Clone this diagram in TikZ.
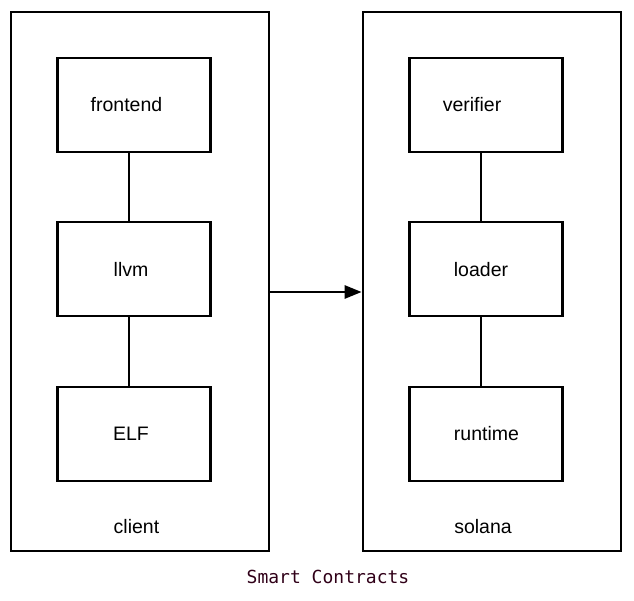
\documentclass[tikz,border=0pt]{standalone}
\usepackage{fontspec}
\setmainfont{Liberation Sans}
\newfontfamily\capfont{DejaVu Sans Mono}
\usetikzlibrary{arrows.meta}
\definecolor{capcol}{HTML}{300018}
\begin{document}
\begin{tikzpicture}[x=1pt,y=1pt,
  outerbox/.style={draw,line width=2.7pt,minimum width=258pt,minimum height=539pt,inner sep=0pt},
  innerbox/.style={draw,line width=2.7pt,minimum width=153pt,minimum height=94pt,inner sep=0pt},
  lbl/.style={font=\fontsize{19.5}{22}\selectfont,inner sep=0pt,anchor=base},
  conn/.style={line width=2.7pt}]
\useasboundingbox (0,0) rectangle (634,600);
\node[outerbox] (client) at (140,318.5) {};
\node[outerbox] (solana) at (492,318.5) {};
\node[innerbox] (frontend) at (134,495) {};
\node[innerbox] (llvm) at (134,331) {};
\node[innerbox] (elf) at (134,166) {};
\node[innerbox] (verifier) at (486,495) {};
\node[innerbox] (loader) at (486,331) {};
\node[innerbox] (runtime) at (486,166) {};
\node[lbl] (frontendtxt) at (126.5,488) {frontend};
\node[lbl] (llvmtxt) at (131,323) {llvm};
\node[lbl] (elftxt) at (131,160) {ELF};
\node[lbl] (verifiertxt) at (472,488) {verifier};
\node[lbl] (loadertxt) at (481,323) {loader};
\node[lbl] (runtimetxt) at (486.5,160) {runtime};
\node[lbl] (clientlbl) at (136.5,67) {client};
\node[lbl] (solanalbl) at (483,67) {solana};
\coordinate (cl) at (129,0);
\coordinate (cr) at (481,0);
\coordinate (ay) at (0,308);
\draw[conn] (frontend.south -| cl) -- (llvm.north -| cl);
\draw[conn] (llvm.south -| cl) -- (elf.north -| cl);
\draw[conn] (verifier.south -| cr) -- (loader.north -| cr);
\draw[conn] (loader.south -| cr) -- (runtime.north -| cr);
\draw[conn,-{Triangle[length=17pt,width=13pt]}] (client.east |- ay) -- (solana.west |- ay);
\node[font=\capfont\fontsize{18}{20}\selectfont,text=capcol,inner sep=0pt] (caption) at (328,23) {Smart Contracts};
\end{tikzpicture}
\end{document}
